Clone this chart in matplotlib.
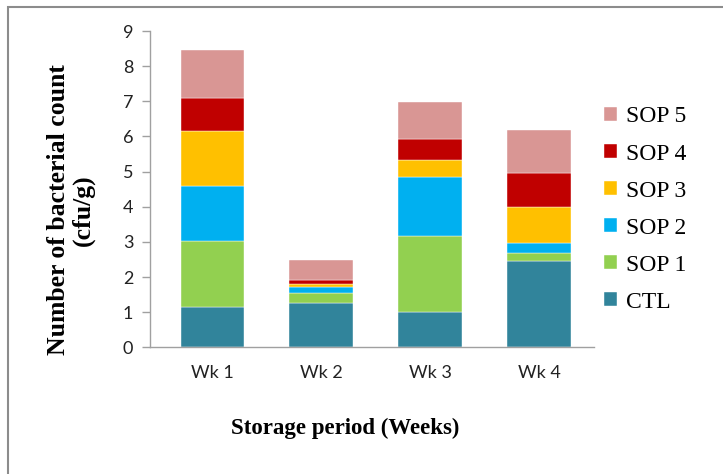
import matplotlib
matplotlib.use("Agg")
import matplotlib.pyplot as plt
from matplotlib.patches import Rectangle
import numpy as np

weeks = ["Wk 1", "Wk 2", "Wk 3", "Wk 4"]
series = ["CTL", "SOP 1", "SOP 2", "SOP 3", "SOP 4", "SOP 5"]
ctl = [1.14, 1.27, 1.01, 2.46]
sop1 = [1.88, 0.28, 2.16, 0.22]
sop2 = [1.58, 0.16, 1.67, 0.29]
sop3 = [1.55, 0.10, 0.49, 1.02]
sop4 = [0.94, 0.11, 0.59, 0.96]
sop5 = [1.36, 0.56, 1.05, 1.23]
colors = ["#31849B", "#92D050", "#00B0F0", "#FFC000", "#C00000", "#D99694"]

fig = plt.figure(figsize=(7.23, 4.74), dpi=100)
ax = fig.add_axes([150 / 723, 1 - 347.3 / 474, 443.5 / 723, 316.3 / 474])

x = np.arange(len(weeks))
bottom = np.zeros(len(weeks))
handles = []
for name, vals, col in zip(series, [ctl, sop1, sop2, sop3, sop4, sop5], colors):
    b = ax.bar(x, vals, 0.58, bottom=bottom, color=col, edgecolor="white",
               linewidth=0.3, label=name)
    handles.append(b)
    bottom += np.array(vals)

ax.set_xlim(-0.57, 3.5)
ax.set_ylim(0, 9)
ax.set_yticks(range(10))
ax.set_xticks(x)
ax.set_xticklabels(weeks)
for side in ["top", "right"]:
    ax.spines[side].set_visible(False)
for side in ["left", "bottom"]:
    ax.spines[side].set_color("#A0A0A0")
    ax.spines[side].set_linewidth(1.0)
ax.tick_params(axis="y", direction="out", length=6, width=1, color="#A0A0A0",
               pad=6, labelsize=13)
ax.tick_params(axis="x", length=0, pad=13, labelsize=13)
for lab in ax.get_xticklabels() + ax.get_yticklabels():
    lab.set_family("Lato")
    lab.set_color("#222222")

fig.text(71 / 723, 1 - 210 / 474, "Number of bacterial count\n(cfu/g)",
         rotation=90, ha="center", va="center", family="Liberation Serif",
         fontweight="bold", fontsize=18.5, linespacing=1.05)
fig.text(345 / 723, 1 - 428 / 474, "Storage period (Weeks)", ha="center",
         va="center", family="Liberation Serif", fontweight="bold", fontsize=16.5)

leg = fig.legend(handles[::-1], series[::-1], loc="upper left",
                 bbox_to_anchor=(595 / 723, 1 - 97 / 474), frameon=False,
                 prop={"family": "Liberation Serif", "size": 17},
                 handlelength=0.55, handleheight=0.55, handletextpad=0.35,
                 labelspacing=0.68, borderaxespad=0)

fig.patches.append(Rectangle((8 / 723, -0.1), 1.2, 1 - 7 / 474 + 0.1,
                             transform=fig.transFigure, fill=False,
                             edgecolor="#8C8C8C", linewidth=1.5))

fig.savefig("out.png", dpi=100)
